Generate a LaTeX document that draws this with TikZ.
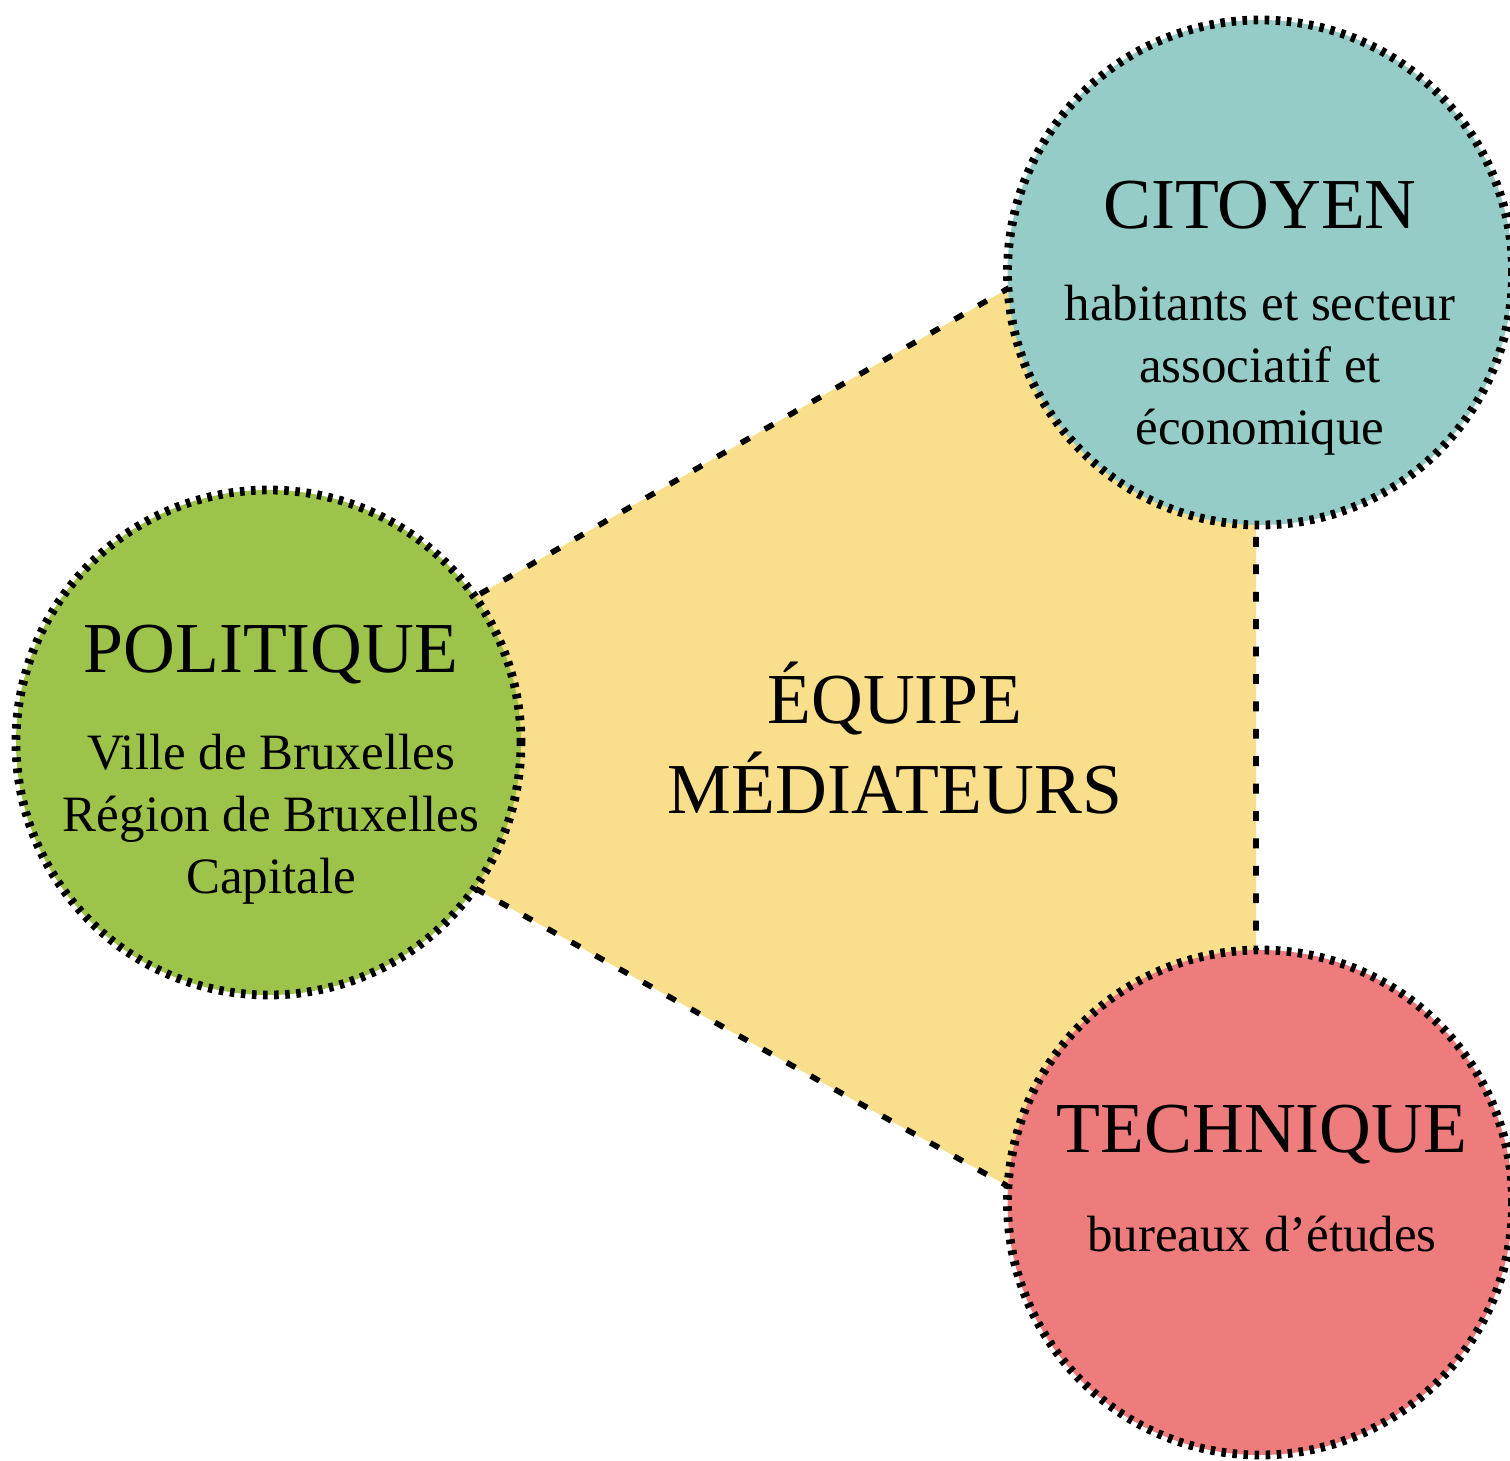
\documentclass[tikz,border=0pt]{standalone}
\usepackage{fontspec}
\setmainfont{Liberation Serif}
\usetikzlibrary{positioning}
\definecolor{polgreen}{RGB}{157,195,74}
\definecolor{citteal}{RGB}{150,204,200}
\definecolor{techred}{RGB}{238,124,124}
\definecolor{teamyellow}{RGB}{249,222,139}

\begin{document}
\begin{tikzpicture}[
    pole/.style={draw, circle, minimum size=5.05cm, inner sep=0pt, line width=2.5pt, dash pattern=on 1.3pt off 1.85pt},
    link/.style={line width=1.6pt, dash pattern=on 2.8pt off 5pt},
    title/.style={font=\fontsize{20.4}{25.6}\selectfont, align=center, inner sep=0pt},
    sub/.style={font=\fontsize{14.5}{17.6}\selectfont, align=center, inner sep=0pt}]
  \useasboundingbox (0,0) rectangle (15.1,14.6);

  \coordinate (a) at (2.19,7.15);
  \coordinate (b) at (12.56,13.15);
  \coordinate (c) at (12.56,1.35);
  \draw[link, fill=teamyellow] (a) -- (b) -- (c) -- cycle;

  \node[pole, fill=polgreen] (p) at (2.685,7.175) {};
  \node[pole, fill=citteal] (ci) at (12.60,11.875) {};
  \node[pole, fill=techred] (te) at (12.60,2.575) {};

  \node[title] (pt) at (2.71,8.05) {POLITIQUE};
  \node[sub, below=0.48cm of pt] (ps) {Ville de Bruxelles\\Région de Bruxelles\\Capitale};

  \node[title] (ct) at (12.60,12.55) {CITOYEN};
  \node[sub, below=0.55cm of ct] (cs) {habitants et secteur\\associatif et\\économique};

  \node[title] (tt) at (12.62,3.25) {TECHNIQUE};
  \node[sub, below=0.5cm of tt] (ts) {bureaux d’études};

  \node[title] (eq) at (8.95,7.22) {ÉQUIPE\\MÉDIATEURS};
\end{tikzpicture}
\end{document}
